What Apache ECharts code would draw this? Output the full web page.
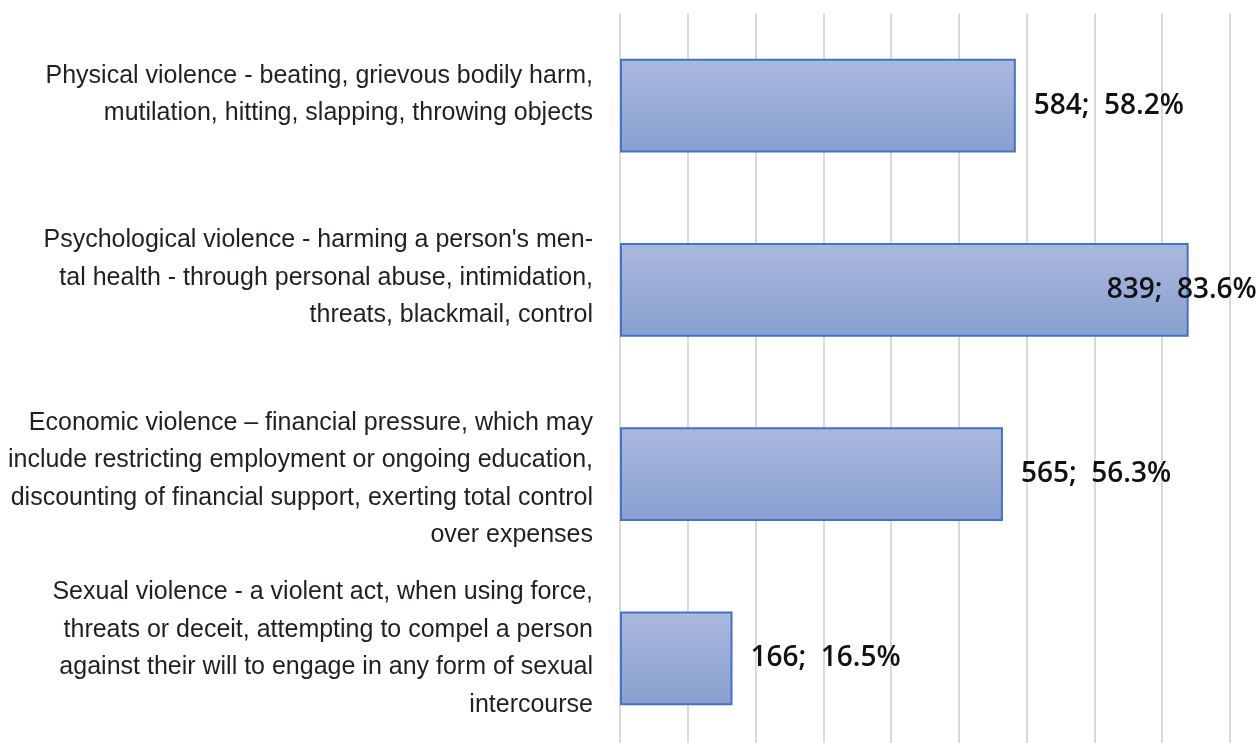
<!DOCTYPE html>
<html>
<head>
<meta charset="utf-8">
<script src="https://cdn.jsdelivr.net/npm/echarts@6/dist/echarts.min.js"></script>
<style>
html, body { margin: 0; padding: 0; background: #fff; }
#chart { width: 1260px; height: 743px; }
</style>
</head>
<body>
<div id="chart"></div>
<script>
// categories, top to bottom
var categories = [
	'Physical violence - beating, grievous bodily harm,\nmutilation, hitting, slapping, throwing objects',
	"Psychological violence - harming a person's men-\ntal health - through personal abuse, intimidation,\nthreats, blackmail, control",
	'Economic violence \u2013 financial pressure, which may\ninclude restricting employment or ongoing education,\ndiscounting of financial support, exerting total control\nover expenses',
	'Sexual violence - a violent act, when using force,\nthreats or deceit, attempting to compel a person\nagainst their will to engage in any form of sexual\nintercourse'
];
var counts = [584, 839, 565, 166];
var percents = [58.2, 83.6, 56.3, 16.5];

var chart = echarts.init(document.getElementById('chart'));

// vertical nudge of each category text block (px, negative = up), as laid out in the original
var labelNudge = [-11, -12, 5, -10];

var seriesData = counts.map(function (v, i) {
	var item = { value: v };
	// label of the longest bar sits partly over the bar, as in the original
	if (i === 1) {
		item.label = { position: 'right', offset: [-100, 0] };
	}
	return item;
});

var option = {
	animation: false,
	grid: {
		left: 620,
		right: 30,
		top: 13.5,
		height: 737,
		outerBoundsMode: 'none'
	},
	xAxis: {
		type: 'value',
		min: 0,
		max: 900,
		interval: 100,
		axisLabel: { show: false },
		axisLine: { show: false },
		axisTick: { show: false },
		splitLine: { lineStyle: { color: '#d9d9d9', width: 2 } }
	},
	yAxis: {
		type: 'category',
		inverse: true,
		data: categories,
		axisLine: { show: false },
		axisTick: { show: false },
		axisLabel: {
			margin: 27,
			align: 'right',
			color: '#231f20',
			formatter: function (value, index) {
				var body = value.split('\n').map(function (l) {
					return '{t|' + l + '}';
				}).join('\n');
				var n = labelNudge[index] || 0;
				if (n < 0) return body + '\n{s' + (-2 * n) + '| }';
				if (n > 0) return '{s' + (2 * n) + '| }\n' + body;
				return body;
			},
			rich: {
				t: {
					fontFamily: '"Liberation Sans", Arial, sans-serif',
					fontSize: 25,
					lineHeight: 37.5,
					color: '#231f20',
					align: 'right'
				},
				s10: { fontSize: 1, lineHeight: 10 },
				s20: { fontSize: 1, lineHeight: 20 },
				s22: { fontSize: 1, lineHeight: 22 },
				s24: { fontSize: 1, lineHeight: 24 }
			}
		}
	},
	series: [{
		type: 'bar',
		data: seriesData,
		barWidth: '51%',
		itemStyle: {
			color: new echarts.graphic.LinearGradient(0, 0, 0, 1, [
				{ offset: 0, color: '#aab9de' },
				{ offset: 1, color: '#889fd0' }
			]),
			borderColor: '#4472c4',
			borderWidth: 2
		},
		label: {
			show: true,
			position: 'right',
			distance: 18,
			fontFamily: '"Open Sans", sans-serif',
			fontWeight: 600,
			fontSize: 28,
			color: '#111',
			formatter: function (p) {
				return p.value + ';  ' + percents[p.dataIndex].toFixed(1) + '%';
			}
		}
	}]
};

chart.setOption(option);
</script>
</body>
</html>
